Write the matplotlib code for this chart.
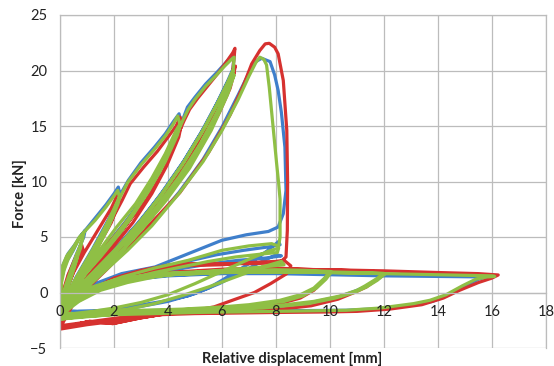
import matplotlib
matplotlib.use("Agg")
import matplotlib.pyplot as plt
import numpy as np

# Force [kN] vs relative displacement [mm], three specimens
# each list is one continuous recorded path of (displacement, force) points

blue_pre = [
    (0.00, -1.0), (0.05, 1.2), (0.20, 2.6), (0.49, 3.8), (0.70, 4.9), (0.93, 5.6), (0.88, 5.0),
    (0.60, 3.4), (0.30, 1.5), (0.00, -1.6),
    (0.03, 0.8), (0.10, 2.4), (0.30, 3.5), (0.55, 4.3), (0.80, 5.2), (1.00, 5.8), (1.30, 6.7),
    (1.70, 7.9), (2.00, 8.9), (2.16, 9.5), (2.22, 8.8),
    (1.90, 6.8), (1.50, 4.8), (1.00, 2.6), (0.50, 0.7), (0.00, -1.7),
    (0.60, 1.4), (1.20, 3.9), (1.80, 6.6), (2.25, 8.9), (2.53, 10.1), (3.00, 11.7), (3.50, 13.1),
    (3.90, 14.3), (4.20, 15.4), (4.41, 16.1), (4.48, 15.3),
    (4.10, 13.3), (3.60, 10.9), (3.00, 8.3), (2.30, 5.7), (1.50, 3.3), (0.70, 1.1), (0.00, -1.6),
    (0.80, 1.3), (1.60, 3.9), (2.40, 6.3), (3.10, 8.6), (3.70, 11.0), (4.20, 13.7), (4.55, 15.6),
    (4.72, 16.7), (5.00, 17.6), (5.40, 18.8), (5.80, 19.8), (6.10, 20.6), (6.35, 21.3), (6.45, 21.5),
    (6.40, 19.9),
    (6.00, 17.9), (5.40, 15.1), (4.60, 11.9), (3.80, 9.1), (3.00, 6.5), (2.10, 4.0), (1.20, 1.8),
    (0.50, 0.1), (0.00, -1.6),
    (0.60, 0.3), (1.30, 2.0), (2.10, 4.1), (2.90, 6.3), (3.70, 8.7), (4.50, 11.5), (5.20, 14.3),
    (5.80, 17.0), (6.20, 19.0), (6.40, 20.1), (6.30, 18.9), (5.90, 16.7), (5.20, 13.5), (4.40, 10.5),
    (3.60, 7.9), (2.70, 5.3), (1.80, 3.1), (0.90, 1.1), (0.00, -1.7),
    (0.40, -0.9), (0.80, 0.1), (1.60, 1.9), (2.50, 3.9), (3.40, 6.1), (4.40, 9.0), (5.30, 12.0),
    (6.00, 14.9), (6.60, 17.8), (7.00, 19.8), (7.25, 20.8), (7.47, 21.1), (7.78, 20.8), (7.95, 19.6),
    (8.08, 18.2), (8.20, 16.2), (8.33, 13.1), (8.37, 9.2), (8.27, 7.1), (8.08, 5.9),
]

blue_post = [
    (7.72, 5.5), (6.90, 5.2), (5.99, 4.7), (4.75, 3.5), (3.52, 2.3), (2.28, 1.7), (1.30, 0.8),
    (0.50, -0.4), (0.00, -1.6),
    (0.70, -1.7), (1.70, -1.6), (2.80, -1.2), (3.80, -0.8), (4.75, -0.3), (5.50, 0.4), (6.00, 1.1),
    (6.60, 2.0), (7.20, 2.9), (7.70, 3.8), (8.10, 4.6), (8.15, 4.3),
    (7.70, 4.1), (6.80, 3.8), (5.80, 3.4), (4.70, 2.8), (3.60, 2.1), (2.50, 1.4), (1.50, 0.6),
    (0.70, -0.4), (0.00, -1.7),
    (0.80, -1.8), (1.80, -1.6), (2.90, -1.3), (4.00, -0.8), (5.00, -0.1), (5.90, 0.8), (6.70, 1.8),
    (7.40, 2.7), (8.00, 3.4), (8.20, 3.3),
    (7.60, 3.1), (6.60, 2.9), (5.60, 2.6), (4.60, 2.2), (3.60, 1.7), (2.60, 1.1), (1.60, 0.4),
    (0.80, -0.6), (0.00, -1.8),
    (0.20, -1.0), (0.60, -0.2), (1.20, 0.5), (2.00, 1.1), (3.00, 1.45), (4.00, 1.7), (6.00, 1.85),
    (8.00, 1.9), (9.00, 1.85), (10.00, 1.8),
    (9.80, 1.2), (9.40, 0.3), (8.90, -0.3), (8.15, -0.8), (7.00, -1.2), (6.00, -1.4), (4.50, -1.55),
    (3.00, -1.65), (1.50, -1.75), (0.00, -2.0),
    (0.20, -1.2), (0.60, -0.4), (1.20, 0.3), (2.00, 0.9), (3.00, 1.3), (4.00, 1.55), (6.00, 1.75),
    (8.00, 1.8), (10.00, 1.7), (11.00, 1.65), (12.00, 1.6),
    (11.70, 1.1), (11.30, 0.5), (10.90, 0.1), (10.30, -0.4), (9.30, -0.9), (8.00, -1.3),
    (6.00, -1.55), (4.00, -1.65), (2.00, -1.75), (0.00, -2.1),
    (0.20, -1.3), (0.60, -0.5), (1.20, 0.2), (2.00, 0.8), (3.00, 1.25), (4.00, 1.5), (6.00, 1.7),
    (8.00, 1.7), (10.00, 1.6), (12.00, 1.5), (14.00, 1.45), (15.80, 1.4),
    (15.50, 1.2), (15.00, 0.6), (14.40, -0.2), (13.80, -0.8), (13.10, -1.1), (11.85, -1.45),
    (10.60, -1.6), (8.00, -1.65), (5.00, -1.7), (2.00, -1.75), (0.70, -1.7), (0.00, -2.0),
]

red_pre = [
    (0.00, -1.8), (0.10, 0.0), (0.30, 1.6), (0.55, 3.0), (0.80, 4.3), (0.85, 3.9), (0.55, 2.2),
    (0.25, 0.2), (0.00, -2.2),
    (0.20, 0.0), (0.50, 1.8), (0.90, 3.6), (1.40, 5.6), (1.90, 7.6), (2.15, 8.9), (2.20, 8.3),
    (1.90, 6.3), (1.40, 4.1), (0.90, 2.2), (0.40, 0.3), (0.00, -2.0),
    (0.60, 1.0), (1.20, 3.5), (1.80, 6.0), (2.30, 8.3), (2.60, 9.8), (3.10, 11.3), (3.60, 12.7),
    (4.00, 14.0), (4.30, 15.0), (4.45, 15.8), (4.50, 15.0),
    (4.20, 13.3), (3.90, 11.8), (3.40, 9.5), (2.80, 7.4), (2.10, 5.3), (1.40, 3.4), (0.70, 1.0),
    (0.00, -2.0),
    (0.70, 0.6), (1.40, 2.8), (2.10, 5.0), (2.80, 7.2), (3.40, 9.4), (3.90, 11.9), (4.30, 14.2),
    (4.50, 15.2), (4.40, 14.0), (3.95, 11.4), (3.40, 8.9), (2.70, 6.3), (1.90, 3.9), (1.00, 1.4),
    (0.00, -2.2),
    (0.80, 0.8), (1.60, 3.3), (2.40, 5.9), (3.10, 8.2), (3.70, 10.6), (4.20, 13.3), (4.60, 15.5),
    (4.80, 16.5), (5.10, 17.5), (5.50, 18.7), (5.90, 19.9), (6.20, 20.9), (6.40, 21.6), (6.48, 22.0),
    (6.40, 20.0), (6.50, 20.4), (6.40, 19.4),
    (6.00, 17.4), (5.40, 14.6), (4.60, 11.3), (3.80, 8.5), (3.00, 6.0), (2.15, 3.8), (1.20, 1.4),
    (0.50, -0.4), (0.00, -2.4),
    (0.60, -0.1), (1.30, 1.6), (2.10, 3.6), (2.90, 5.8), (3.70, 8.2), (4.50, 11.0), (5.20, 13.8),
    (5.80, 16.5), (6.20, 18.6), (6.45, 19.8), (6.30, 18.4), (5.90, 16.2), (5.20, 13.0), (4.40, 10.0),
    (3.60, 7.4), (2.70, 4.9), (1.80, 2.7), (0.90, 0.6), (0.00, -2.6),
    (0.40, -1.2), (0.90, 0.1), (1.70, 2.0), (2.50, 4.0), (3.20, 5.8), (4.44, 9.0), (5.50, 12.6),
    (6.30, 16.0), (6.80, 18.7), (7.10, 20.6), (7.40, 21.8), (7.60, 22.4), (7.75, 22.45), (7.95, 22.1),
    (8.08, 21.5), (8.27, 19.1), (8.40, 14.6), (8.43, 10.0), (8.42, 5.6), (8.37, 3.2), (8.15, 2.7),
]

red_post = [
    (7.20, 2.6), (6.00, 2.6), (4.75, 2.6), (4.10, 2.5), (3.00, 2.0), (2.00, 1.3), (1.20, 0.3),
    (0.50, -1.0), (0.00, -3.2),
    (1.10, -2.6), (1.96, -2.8), (2.96, -2.3), (3.70, -2.0), (4.80, -1.7), (5.70, -1.3), (6.50, -0.6),
    (7.20, 0.0), (7.80, 0.8), (8.40, 1.7), (8.55, 2.4), (8.30, 2.9), (8.00, 2.8),
    (7.00, 2.7), (6.00, 2.5), (4.50, 2.4), (3.00, 1.8), (2.00, 1.1), (1.00, 0.0), (0.30, -1.2),
    (0.00, -3.0),
    (0.20, -1.6), (0.60, -0.6), (1.20, 0.3), (2.00, 1.0), (3.00, 1.5), (4.00, 1.8), (6.00, 2.1),
    (8.00, 2.2), (9.00, 2.1), (10.00, 2.0),
    (9.80, 1.2), (9.40, 0.2), (8.90, -0.5), (8.15, -1.0), (7.00, -1.4), (6.00, -1.6), (4.50, -1.8),
    (3.00, -2.0), (1.50, -2.5), (0.00, -3.0),
    (0.20, -1.8), (0.60, -0.8), (1.20, 0.2), (2.00, 0.9), (3.00, 1.4), (4.00, 1.75), (6.00, 2.0),
    (8.00, 2.1), (10.00, 2.05), (11.00, 1.95), (12.00, 1.85),
    (11.75, 1.2), (11.35, 0.5), (10.90, 0.0), (10.30, -0.6), (9.30, -1.2), (8.00, -1.55),
    (6.00, -1.8), (4.00, -1.9), (2.00, -2.6), (1.00, -2.9), (0.00, -3.3),
    (0.20, -1.8), (0.60, -0.8), (1.20, 0.2), (2.00, 0.9), (3.00, 1.4), (4.00, 1.75), (6.00, 2.0),
    (8.00, 2.1), (10.00, 2.05), (12.00, 1.95), (14.00, 1.8), (15.50, 1.7), (16.23, 1.58),
    (16.00, 1.3), (15.50, 0.9), (14.80, 0.2), (14.20, -0.5), (13.40, -1.1), (12.20, -1.5),
    (11.00, -1.7), (10.00, -1.75), (8.00, -1.8), (5.00, -1.9), (3.70, -2.0), (2.96, -2.3),
    (1.96, -2.8), (1.10, -2.6), (0.00, -3.2),
]

green_pre = [
    (0.00, -1.2), (0.05, 0.8), (0.15, 2.0), (0.30, 3.0), (0.50, 3.9), (0.70, 4.8), (0.88, 5.4),
    (0.84, 4.8), (0.60, 3.2), (0.35, 1.4), (0.15, 0.0), (0.00, -1.8),
    (0.10, -0.6), (0.30, 1.0), (0.55, 2.8), (0.80, 4.6), (0.76, 4.0), (0.50, 2.2), (0.25, 0.5),
    (0.00, -2.2),
    (0.05, -0.8), (0.20, 0.6), (0.40, 2.0), (0.65, 3.6), (0.62, 3.0), (0.40, 1.2), (0.18, -0.4),
    (0.00, -2.4),
    (0.02, 0.5), (0.06, 2.2), (0.25, 3.3), (0.50, 4.1), (0.72, 5.0), (0.95, 5.6), (1.30, 6.5),
    (1.70, 7.7), (2.00, 8.7), (2.14, 9.2), (2.20, 8.6),
    (1.90, 6.6), (1.50, 4.6), (1.00, 2.4), (0.50, 0.6), (0.00, -1.8),
    (0.50, 0.9), (1.00, 2.9), (1.50, 5.0), (1.90, 7.0), (2.20, 8.6), (2.15, 8.0), (1.80, 5.9),
    (1.30, 3.6), (0.70, 1.2), (0.00, -2.0),
    (0.60, 1.3), (1.20, 3.8), (1.80, 6.4), (2.25, 8.7), (2.50, 9.9), (3.00, 11.5), (3.50, 12.9),
    (3.90, 14.1), (4.20, 15.2), (4.36, 15.9), (4.45, 15.1),
    (4.10, 13.2), (3.60, 10.8), (3.00, 8.2), (2.30, 5.6), (1.50, 3.2), (0.70, 1.0), (0.00, -1.6),
    (0.70, 1.2), (1.40, 3.6), (2.10, 5.9), (2.80, 8.0), (3.40, 10.3), (3.90, 12.5), (4.30, 14.6),
    (4.45, 15.2), (4.35, 14.2), (3.90, 11.8), (3.30, 9.2), (2.60, 6.6), (1.80, 4.2), (0.90, 1.6),
    (0.00, -1.8),
    (0.80, 1.2), (1.60, 3.8), (2.40, 6.2), (3.10, 8.5), (3.70, 10.9), (4.20, 13.6), (4.55, 15.5),
    (4.75, 16.5), (5.00, 17.4), (5.40, 18.6), (5.80, 19.6), (6.10, 20.4), (6.35, 21.0), (6.45, 21.2),
    (6.40, 19.6),
    (6.00, 17.8), (5.40, 15.0), (4.60, 11.8), (3.80, 9.0), (3.00, 6.4), (2.10, 3.9), (1.20, 1.7),
    (0.50, 0.0), (0.00, -1.6),
    (0.60, 0.3), (1.30, 2.0), (2.10, 4.0), (2.90, 6.2), (3.70, 8.6), (4.50, 11.4), (5.20, 14.2),
    (5.80, 16.9), (6.20, 18.9), (6.40, 20.0), (6.30, 18.8), (5.90, 16.6), (5.20, 13.4), (4.40, 10.4),
    (3.60, 7.8), (2.70, 5.2), (1.80, 3.0), (0.90, 1.0), (0.00, -1.7),
    (0.70, 0.2), (1.50, 2.0), (2.40, 4.0), (3.30, 6.5), (4.20, 9.4), (5.00, 12.5), (5.70, 15.6),
    (6.20, 18.2), (6.45, 19.6), (6.20, 17.8), (5.60, 14.6), (4.80, 11.2), (3.90, 8.2), (3.00, 5.6),
    (2.00, 3.0), (1.00, 0.8), (0.00, -1.8),
    (0.40, -0.9), (0.80, 0.0), (1.60, 1.8), (2.50, 3.8), (3.40, 6.0), (4.40, 8.9), (5.30, 11.8),
    (6.00, 14.6), (6.60, 17.4), (7.00, 19.5), (7.25, 20.7), (7.40, 21.2), (7.55, 21.0), (7.65, 20.5),
    (7.75, 18.5), (7.84, 16.2), (7.93, 14.0), (8.02, 11.7), (8.10, 9.8), (8.15, 8.4), (8.15, 6.5),
    (8.15, 5.0), (8.10, 4.2), (7.95, 4.3),
]

green_post = [
    (7.84, 4.4), (7.00, 4.2), (6.00, 3.8), (4.75, 2.9), (3.50, 2.2), (2.30, 1.4), (1.30, 0.5),
    (0.50, -0.6), (0.00, -1.8),
    (0.50, -1.9), (1.20, -1.7), (2.00, -1.4), (3.00, -0.9), (4.00, -0.2), (5.00, 0.8), (6.00, 1.9),
    (7.00, 3.0), (7.70, 3.7), (8.10, 4.0), (8.05, 3.6),
    (7.60, 3.5), (6.50, 3.2), (5.50, 2.8), (4.50, 2.3), (3.50, 1.8), (2.50, 1.2), (1.50, 0.4),
    (0.70, -0.6), (0.00, -2.0),
    (0.60, -2.0), (1.50, -1.8), (2.50, -1.5), (3.50, -1.0), (4.50, -0.3), (5.50, 0.5), (6.50, 1.4),
    (7.50, 2.3), (8.20, 2.8), (8.30, 2.5),
    (7.50, 2.3), (6.50, 2.1), (5.50, 1.9), (4.50, 1.7), (3.50, 1.4), (2.50, 0.9), (1.50, 0.2),
    (0.70, -0.8), (0.00, -2.1),
    (0.20, -1.0), (0.60, -0.2), (1.20, 0.5), (2.00, 1.1), (3.00, 1.5), (4.00, 1.75), (6.00, 1.95),
    (8.00, 2.05), (9.00, 2.0), (10.00, 1.9),
    (9.80, 1.3), (9.40, 0.4), (8.90, -0.2), (8.15, -0.7), (7.00, -1.1), (6.00, -1.3), (4.50, -1.5),
    (3.00, -1.6), (1.50, -1.8), (0.00, -2.2),
    (0.20, -1.2), (0.60, -0.4), (1.20, 0.4), (2.00, 1.0), (3.00, 1.4), (4.00, 1.7), (6.00, 1.9),
    (8.00, 1.95), (9.50, 1.9), (10.05, 1.85),
    (9.85, 1.2), (9.50, 0.4), (9.00, -0.3), (8.30, -0.8), (7.00, -1.2), (5.50, -1.45), (4.00, -1.6),
    (2.00, -1.8), (0.00, -2.4),
    (0.20, -1.3), (0.60, -0.5), (1.20, 0.3), (2.00, 0.9), (3.00, 1.35), (4.00, 1.65), (6.00, 1.85),
    (8.00, 1.9), (10.00, 1.85), (11.00, 1.8), (12.00, 1.72),
    (11.70, 1.2), (11.30, 0.6), (11.00, 0.2), (10.40, -0.3), (9.40, -0.8), (8.00, -1.2), (6.00, -1.5),
    (4.00, -1.6), (2.00, -1.8), (0.00, -2.3),
    (0.20, -1.4), (0.60, -0.6), (1.20, 0.2), (2.00, 0.8), (3.00, 1.3), (4.00, 1.6), (6.00, 1.8),
    (8.00, 1.85), (10.00, 1.8), (12.05, 1.7),
    (11.75, 1.1), (11.35, 0.5), (10.90, 0.0), (10.20, -0.5), (9.20, -1.0), (7.50, -1.4), (5.50, -1.6),
    (3.00, -1.75), (0.00, -2.4),
    (0.20, -1.4), (0.60, -0.6), (1.20, 0.2), (2.00, 0.8), (3.00, 1.3), (4.00, 1.6), (6.00, 1.8),
    (8.00, 1.85), (10.00, 1.8), (12.00, 1.7), (14.00, 1.6), (16.00, 1.5), (16.10, 1.45),
    (15.80, 1.4), (15.40, 1.2), (14.90, 0.6), (14.30, -0.2), (13.70, -0.7), (13.10, -1.0),
    (11.85, -1.4), (10.60, -1.6), (8.00, -1.7), (5.00, -1.8), (2.00, -2.0), (0.00, -2.3),
]

x_ticks = [0, 2, 4, 6, 8, 10, 12, 14, 16, 18]
y_ticks = [-5, 0, 5, 10, 15, 20, 25]

BLUE = "#3f7fcb"
RED = "#d6312f"
GREEN = "#8fbf45"
GRID = "#bcbcbc"

plt.rcParams['font.family'] = ['Lato', 'DejaVu Sans']

fig = plt.figure(figsize=(5.54, 3.66), dpi=100)
ax = fig.add_axes([60 / 554, 18 / 366, 486 / 554, 333 / 366])

# gridlines under the data, tick labels on top of it
for xv in x_ticks:
    ax.axvline(xv, color=GRID, lw=0.9, zorder=0.5)
for yv in y_ticks:
    ax.axhline(yv, color=GRID, lw=0.9, zorder=0.5)

series = [(blue_pre + blue_post, BLUE, 2.0),
          (red_pre + red_post, RED, 2.1),
          (green_pre + green_post, GREEN, 2.2)]
for pts, color, z in series:
    arr = np.array(pts)
    ax.plot(arr[:, 0], arr[:, 1], color=color, lw=2.3, zorder=z,
            solid_joinstyle='round', solid_capstyle='round')

ax.set_xlim(0, 18)
ax.set_ylim(-5, 25)
ax.set_xticks(x_ticks)
ax.set_yticks(y_ticks)
ax.set_axisbelow(False)

# horizontal axis sits on the zero line, like the spreadsheet chart
ax.spines['bottom'].set_position(('data', 0))
for s in ax.spines.values():
    s.set_color(GRID)
    s.set_linewidth(0.9)
ax.tick_params(axis='both', length=0, labelsize=10.5, colors='#222222')
ax.tick_params(axis='x', pad=9)
ax.tick_params(axis='y', pad=9)

fig.text(292 / 554, 0.018, "Relative displacement [mm]", ha='center', va='center',
         fontsize=10.5, fontweight='bold', color='#222222')
fig.text(20 / 554, 0.47, "Force [kN]", ha='center', va='center', rotation=90,
         fontsize=10.5, fontweight='bold', color='#222222')

plt.savefig("out.png", dpi=100)
